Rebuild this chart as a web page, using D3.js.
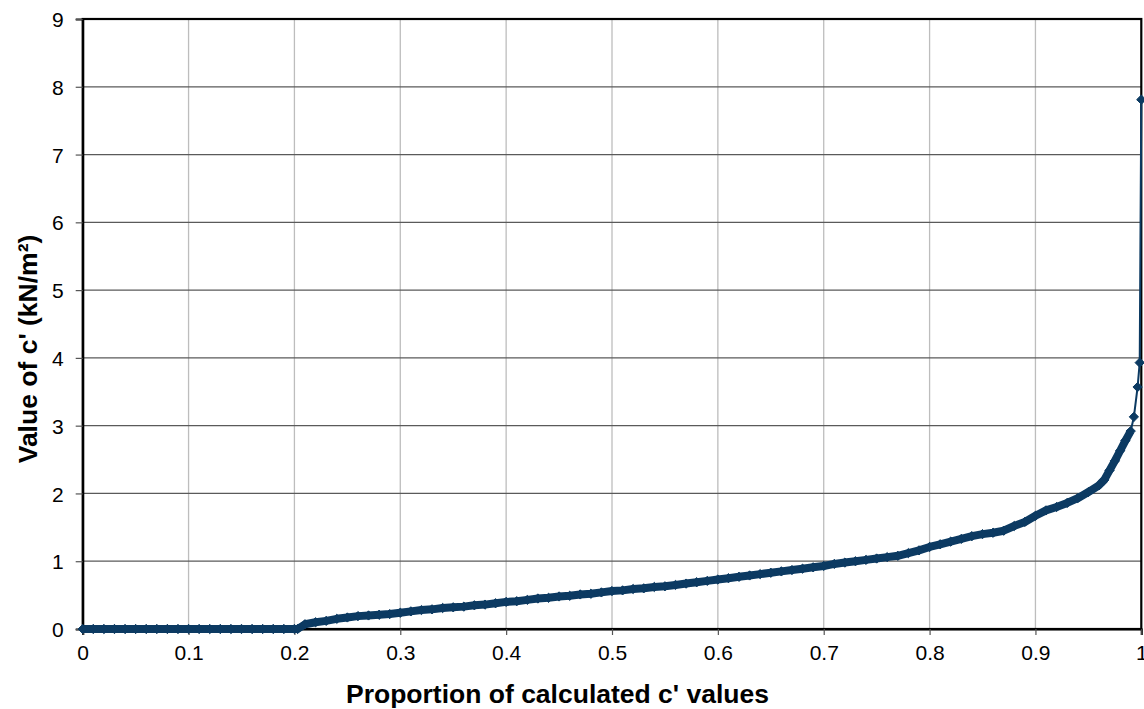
<!DOCTYPE html>
<html><head><meta charset="utf-8">
<script src="https://cdn.jsdelivr.net/npm/d3@7"></script>
<style>body{margin:0;background:#fff;font-family:"Liberation Sans",Arial,sans-serif}</style>
</head><body><svg id="c" width="1144" height="709"></svg>
<script>
const proportions = [0,0.01,0.02,0.03,0.04,0.05,0.06,0.07,0.08,0.09,0.10,0.11,0.12,0.13,0.14,0.15,0.16,0.17,0.18,0.19,0.20,0.203,
0.21,0.22,0.23,0.24,0.25,0.26,0.27,0.28,0.29,0.30,0.31,0.32,0.33,0.34,0.35,0.36,0.37,0.38,0.39,0.40,
0.41,0.42,0.43,0.44,0.45,0.46,0.47,0.48,0.49,0.50,0.51,0.52,0.53,0.54,0.55,0.56,0.57,0.58,0.59,0.60,
0.61,0.62,0.63,0.64,0.65,0.66,0.67,0.68,0.69,0.70,0.71,0.72,0.73,0.74,0.75,0.76,0.77,0.78,0.79,0.80,
0.81,0.82,0.83,0.84,0.85,0.86,0.87,0.88,0.89,0.90,0.91,0.92,0.93,0.94,0.95,0.96,0.965,0.97,0.975,0.98,
0.985,0.99,0.993,0.9965,0.9985,1.0];
const cValues = [0,0,0,0,0,0,0,0,0,0,0,0,0,0,0,0,0,0,0,0,0,0,
0.07,0.10,0.12,0.15,0.17,0.19,0.20,0.21,0.22,0.24,0.26,0.28,0.29,0.31,0.32,0.33,0.35,0.36,0.38,0.40,
0.41,0.43,0.45,0.46,0.48,0.49,0.51,0.52,0.54,0.56,0.57,0.59,0.60,0.62,0.63,0.65,0.67,0.69,0.71,0.73,
0.75,0.77,0.79,0.81,0.83,0.85,0.87,0.89,0.91,0.93,0.96,0.98,1.00,1.02,1.04,1.06,1.08,1.12,1.16,1.21,
1.25,1.29,1.33,1.37,1.40,1.42,1.45,1.52,1.58,1.67,1.75,1.80,1.86,1.93,2.02,2.12,2.20,2.34,2.48,2.63,
2.78,2.92,3.13,3.57,3.93,7.81];
const xTicks = [0,0.1,0.2,0.3,0.4,0.5,0.6,0.7,0.8,0.9,1];
const yTicks = [0,1,2,3,4,5,6,7,8,9];
const xTitle = "Proportion of calculated c' values";
const yTitle = "Value of c' (kN/m²)";

const svg = d3.select("#c");
const L = 82.7, R = 1141.3, T = 19, B = 629;
const x = d3.scaleLinear().domain([0,1]).range([L,R]);
const y = d3.scaleLinear().domain([0,9]).range([B,T]);
const col = "#0c3a62";
const FONT = "'Liberation Sans', Arial, sans-serif";

// gridlines
svg.append("g").selectAll("line").data(xTicks.slice(1,-1)).join("line")
  .attr("x1",d=>x(d)).attr("x2",d=>x(d)).attr("y1",T).attr("y2",B)
  .attr("stroke","#bdbdbd").attr("stroke-width",1.3);
svg.append("g").selectAll("line").data(yTicks.slice(1,-1)).join("line")
  .attr("x1",L).attr("x2",R).attr("y1",d=>y(d)).attr("y2",d=>y(d))
  .attr("stroke","#5a5a5a").attr("stroke-width",1.2);

// frame
svg.append("rect").attr("x",L).attr("y",T).attr("width",R-L).attr("height",B-T)
  .attr("fill","none").attr("stroke","#000").attr("stroke-width",2.2);

// axes
const xa = svg.append("g").attr("transform",`translate(0,${B})`)
  .call(d3.axisBottom(x).tickValues(xTicks).tickFormat(d3.format("")).tickSize(6).tickPadding(10));
const ya = svg.append("g").attr("transform",`translate(${L},0)`)
  .call(d3.axisLeft(y).tickValues(yTicks).tickSize(7).tickPadding(12));
[xa,ya].forEach(a=>{
  a.attr("font-size",21).attr("font-family",FONT);
  a.select(".domain").attr("stroke","#000").attr("stroke-width",2.2);
  a.selectAll(".tick line").attr("stroke","#555").attr("stroke-width",1.2);
  a.selectAll(".tick text").attr("fill","#000").attr("font-size",21)
    .style("font-size","21px").style("font-family",FONT);
});
ya.selectAll(".tick text").attr("dy","0.36em");

// titles
svg.append("text").attr("x",557.5).attr("y",703).attr("text-anchor","middle")
  .style("font-weight","bold").style("font-size","26.5px").style("font-family",FONT).text(xTitle);
svg.append("text").attr("transform",`translate(37,349) rotate(-90)`).attr("text-anchor","middle")
  .style("font-weight","bold").style("font-size","26.5px").style("font-family",FONT).text(yTitle);

// series
const pts = proportions.map((p,i)=>[p,cValues[i]]);
const line = d3.line().x(d=>x(d[0])).y(d=>y(d[1]));
const cut = proportions.indexOf(0.99);
svg.append("path").datum(pts.slice(0,cut+1)).attr("d",line)
  .attr("fill","none").attr("stroke",col).attr("stroke-width",8).attr("stroke-linejoin","round");
svg.append("path").datum(pts.slice(cut)).attr("d",line)
  .attr("fill","none").attr("stroke",col).attr("stroke-width",2);
svg.append("g").selectAll("path").data(pts).join("path")
  .attr("transform",d=>`translate(${x(d[0])},${y(d[1])})`)
  .attr("d",d3.symbol(d3.symbolDiamond2,55)())
  .attr("fill",col).attr("stroke",col).attr("stroke-width",1);
</script></body></html>
